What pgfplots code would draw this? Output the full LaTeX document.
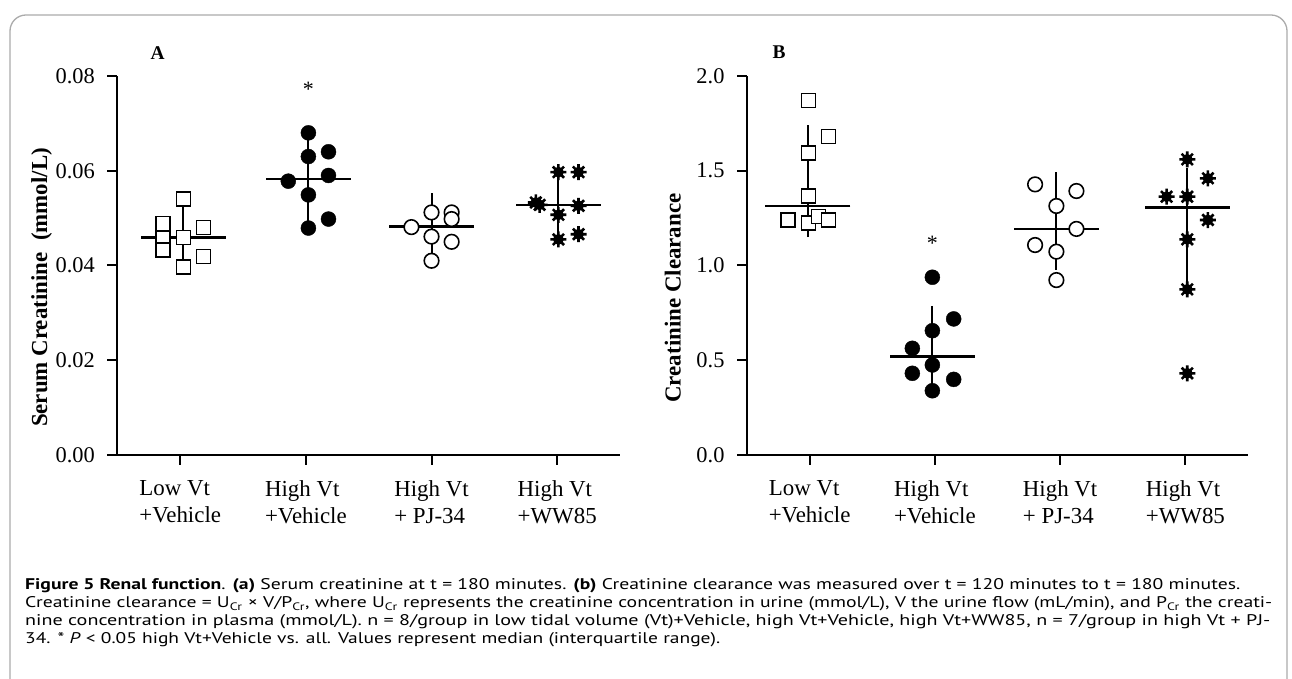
\documentclass[border=0pt]{standalone}
\usepackage{fontspec}
\setmainfont{Liberation Serif}
\newfontfamily\capfont{PT Sans}
\usepackage{graphicx}
\usepackage{pgfplots}
\pgfplotsset{compat=1.18}

% 8-spoke filled star used for the WW85 groups
\pgfdeclareplotmark{burst}{%
  \pgfpathcircle{\pgfpointorigin}{0.5\pgfplotmarksize}%
  \pgfusepathqfillstroke
  \pgfpathmoveto{\pgfqpoint{-\pgfplotmarksize}{0pt}}\pgfpathlineto{\pgfqpoint{\pgfplotmarksize}{0pt}}%
  \pgfpathmoveto{\pgfqpoint{0pt}{-\pgfplotmarksize}}\pgfpathlineto{\pgfqpoint{0pt}{\pgfplotmarksize}}%
  \pgfpathmoveto{\pgfqpoint{-0.7\pgfplotmarksize}{-0.7\pgfplotmarksize}}\pgfpathlineto{\pgfqpoint{0.7\pgfplotmarksize}{0.7\pgfplotmarksize}}%
  \pgfpathmoveto{\pgfqpoint{-0.7\pgfplotmarksize}{0.7\pgfplotmarksize}}\pgfpathlineto{\pgfqpoint{0.7\pgfplotmarksize}{-0.7\pgfplotmarksize}}%
  \pgfusepathqstroke
}

\pgfplotsset{
  panel/.style={
    scale only axis, height=379bp,
    axis lines*=left, tick pos=left, tick align=outside,
    major tick length=10bp,
    axis line style={line width=2bp, black},
    tick style={line width=2bp, black},
    xmin=-0.5, xmax=3.5, xtick={0,1,2,3},
    xticklabels={Low Vt\\+Vehicle, High Vt\\+Vehicle, High Vt\\+ PJ-34, High Vt\\+WW85},
    xticklabel style={align=left, font=\fontsize{23}{27}\selectfont, yshift=-12bp},
    yticklabel style={font=\fontsize{22.5}{27}\selectfont, xshift=-9bp},
    scaled y ticks=false,
    /pgf/number format/assume math mode=true,
    ylabel style={font=\fontsize{23}{27}\selectfont\bfseries, anchor=center},
    clip=false,
  },
  summary/.style={black, mark=-, mark size=42.5bp, line width=2.4bp,
    error bars/.cd, y dir=both, y explicit,
    error bar style={line width=2bp},
    error mark options={mark size=19bp, line width=2bp}},
  sq/.style={only marks, mark=square*, mark size=7bp,
    mark options={fill=white, draw=black, line width=1.6bp}},
  fc/.style={only marks, mark=*, mark size=7.5bp,
    mark options={fill=black, draw=black}},
  oc/.style={only marks, mark=*, mark size=7.3bp,
    mark options={fill=white, draw=black, line width=1.6bp}},
  st/.style={only marks, mark=burst, mark size=8bp,
    mark options={fill=black, draw=black, line width=2.6bp}},
}

\begin{document}
\begin{tikzpicture}[x=1bp, y=1bp]
\useasboundingbox (0,0) rectangle (1292,679);
\draw[black!33, line width=1.3bp, rounded corners=16bp]
  (10,-20) -- (10,664) -- (1287,664) -- (1287,-20);

% ---------------- panel A: serum creatinine ----------------
\begin{axis}[panel, at={(117.4bp,224bp)}, anchor=south west, width=502.6bp,
  ymin=0, ymax=0.08, ytick={0,0.02,0.04,0.06,0.08},
  yticklabel style={/pgf/number format/fixed, /pgf/number format/fixed zerofill,
    /pgf/number format/precision=2},
  ylabel={Serum Creatinine\ \ (mmol/L)},
  ylabel style={at={(axis description cs:-0.151,0.442)}}]
\addplot[summary] coordinates {(0.025,0.0459) += (0,0.0028) -= (0,0.0028)};
\addplot[summary] coordinates {(1.02,0.0583) += (0,0.0052) -= (0,0.0061)};
\addplot[summary] coordinates {(2.0,0.0482) += (0,0.0030) -= (0,0.0030)};
\addplot[summary] coordinates {(3.01,0.0528) += (0,0.0040) -= (0,0.0039)};
\addplot[sq] coordinates {(0.025,0.0540) (-0.135,0.0489) (0.185,0.0480) (-0.135,0.0457)
  (0.025,0.0459) (-0.135,0.0433) (0.185,0.0419) (0.025,0.0397)};
\addplot[fc] coordinates {(1.02,0.0680) (1.02,0.0630) (1.18,0.0640) (0.86,0.0578)
  (1.18,0.0590) (1.02,0.0549) (1.18,0.0498) (1.02,0.0479)};
\addplot[oc] coordinates {(2.0,0.0512) (2.16,0.0512) (2.16,0.0498) (1.84,0.0481)
  (2.0,0.0461) (2.16,0.0450) (2.0,0.0410)};
\addplot[st] coordinates {(3.01,0.0597) (3.17,0.0597) (2.83,0.0533) (2.86,0.0528)
  (3.17,0.0526) (3.01,0.0507) (3.01,0.0455) (3.17,0.0466)};
\node[font=\fontsize{22}{22}\selectfont] at (axis cs:1.02,0.0772) {*};
\end{axis}
\draw[line width=2bp] (108.7,224) -- (117.4,224);
\node[font=\fontsize{19.5}{20}\selectfont\bfseries] at (157.7,626) {A};

% ---------------- panel B: creatinine clearance ----------------
\begin{axis}[panel, at={(747bp,224bp)}, anchor=south west, width=501bp,
  ymin=0, ymax=2, ytick={0,0.5,1,1.5,2},
  yticklabel style={/pgf/number format/fixed, /pgf/number format/fixed zerofill,
    /pgf/number format/precision=1},
  ylabel={Creatinine Clearance},
  ylabel style={at={(axis description cs:-0.148,0.414)}}]
\addplot[summary] coordinates {(-0.015,1.314) += (0,0.327) -= (0,0.064)};
\addplot[summary] coordinates {(0.98,0.519) += (0,0.167) -= (0,0.106)};
\addplot[summary] coordinates {(1.97,1.193) += (0,0.200) -= (0,0.116)};
\addplot[summary] coordinates {(3.015,1.307) += (0,0.106) -= (0,0.295)};
\addplot[sq] coordinates {(-0.01,1.870) (0.15,1.680) (-0.01,1.595) (-0.01,1.368)
  (-0.175,1.240) (-0.01,1.223) (0.07,1.258) (0.15,1.240)};
\addplot[fc] coordinates {(0.98,0.938) (1.15,0.718) (0.98,0.656) (0.82,0.563)
  (0.98,0.475) (0.82,0.431) (1.15,0.399) (0.98,0.339)};
\addplot[oc] coordinates {(1.80,1.428) (2.13,1.393) (1.97,1.314) (2.13,1.193)
  (1.80,1.108) (1.97,1.073) (1.97,0.923)};
\addplot[st] coordinates {(3.015,1.560) (3.18,1.460) (2.85,1.363) (3.015,1.363)
  (3.18,1.240) (3.015,1.138) (3.015,0.874) (3.015,0.431)};
\node[font=\fontsize{22}{22}\selectfont] at (axis cs:0.98,1.115) {*};
\end{axis}
\draw[line width=2bp] (737.5,224) -- (747,224);
\node[font=\fontsize{19.5}{20}\selectfont\bfseries] at (779,627) {B};

% ---------------- caption ----------------
\begin{scope}[every node/.style={anchor=base west, inner sep=0pt,
    font=\capfont\fontsize{15.5}{18}\selectfont}]
\node at (25,89) {\resizebox{1215bp}{\height}{\textbf{Figure 5 Renal function}. \textbf{(a)} Serum creatinine at t = 180 minutes. \textbf{(b)} Creatinine clearance was measured over t = 120 minutes to t = 180 minutes.}};
\node at (25,71) {\resizebox{1247bp}{\height}{Creatinine clearance = U\textsubscript{Cr} × V/P\textsubscript{Cr}, where U\textsubscript{Cr} represents the creatinine concentration in urine (mmol/L), V the urine flow (mL/min), and P\textsubscript{Cr} the creati-}};
\node at (25,53) {\resizebox{1245bp}{\height}{nine concentration in plasma (mmol/L). n = 8/group in low tidal volume (Vt)+Vehicle, high Vt+Vehicle, high Vt+WW85, n = 7/group in high Vt + PJ-}};
\node at (25,35) {\resizebox{695bp}{\height}{34. * \textit{P} < 0.05 high Vt+Vehicle vs. all. Values represent median (interquartile range).}};
\end{scope}
\end{tikzpicture}
\end{document}
